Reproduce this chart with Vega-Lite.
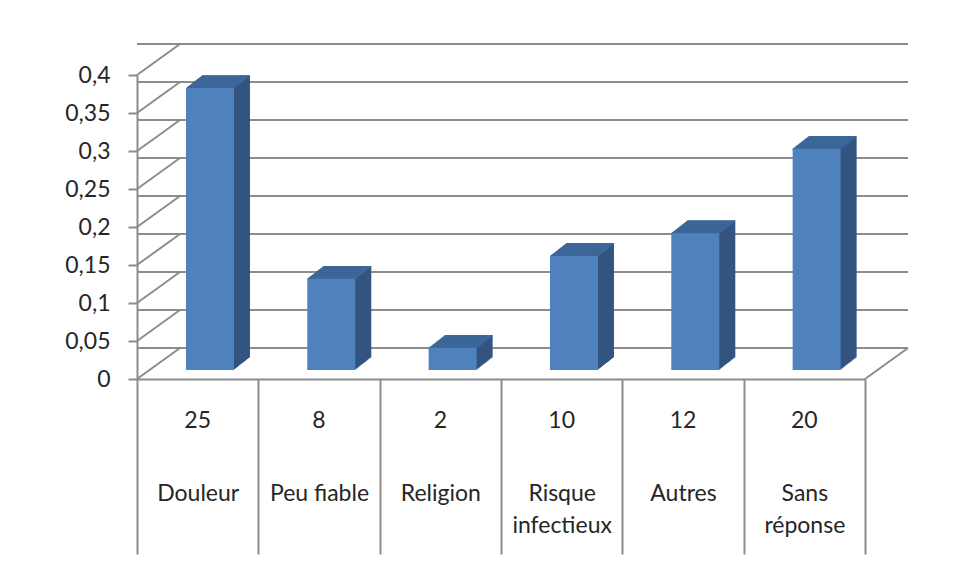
{
  "$schema": "https://vega.github.io/schema/vega-lite/v6.json",
  "width": 728,
  "height": 304,
  "autosize": {"type": "none"},
  "padding": {"left": 137, "top": 75, "right": 91, "bottom": 191},
  "background": "white",
  "config": {
    "view": {"stroke": null},
    "font": "Lato",
    "axisY": {
      "tickCount": 8,
      "labelExpr": "replace(format(datum.value, '.2~f'), '.', ',')",
      "tickSize": 9, "tickColor": "#8c8c8c", "tickWidth": 2,
      "domainColor": "#8c8c8c", "domainWidth": 2,
      "labelPadding": 18, "labelFont": "Lato", "labelFontSize": 23, "labelColor": "#262626",
      "labelOverlap": false, "labelFlush": false, "grid": false
    }
  },
  "datasets": {
    "main": [
      {"cat": "Douleur", "pct": 0.371, "n": 25},
      {"cat": "Peu fiable", "pct": 0.12, "n": 8},
      {"cat": "Religion", "pct": 0.029, "n": 2},
      {"cat": "Risque infectieux", "pct": 0.15, "n": 10},
      {"cat": "Autres", "pct": 0.18, "n": 12},
      {"cat": "Sans réponse", "pct": 0.291, "n": 20}
    ],
    "grid": [
      {"v": 0}, {"v": 0.05}, {"v": 0.1}, {"v": 0.15}, {"v": 0.2},
      {"v": 0.25}, {"v": 0.3}, {"v": 0.35}, {"v": 0.4}
    ]
  },
  "layer": [
    {
      "data": {"name": "grid"},
      "mark": {"type": "rule", "color": "#8c8c8c", "strokeWidth": 2, "xOffset": 43, "x2Offset": 43, "yOffset": -31},
      "encoding": {"y": {"field": "v", "type": "quantitative", "title": null}}
    },
    {
      "data": {"name": "grid"},
      "mark": {"type": "rule", "color": "#8c8c8c", "strokeWidth": 2, "x2Offset": 43, "y2Offset": -31},
      "encoding": {
        "x": {"value": 0},
        "x2": {"value": 0},
        "y": {"field": "v", "type": "quantitative", "title": null},
        "y2": {"field": "v"}
      }
    },
    {
      "data": {"values": [{}]},
      "mark": {"type": "rule", "color": "#8c8c8c", "strokeWidth": 2, "x2Offset": 43, "y2Offset": -31},
      "encoding": {
        "x": {"value": {"expr": "width"}},
        "x2": {"value": {"expr": "width"}},
        "y": {"datum": 0, "type": "quantitative", "title": null},
        "y2": {"datum": 0}
      }
    },
    {
      "data": {"name": "main"},
      "encoding": {
        "x": {
          "field": "cat", "type": "nominal", "sort": null, "title": null,
          "scale": {"paddingInner": 0, "paddingOuter": 0},
          "axis": {
            "tickBand": "extent", "tickSize": 175, "tickColor": "#8c8c8c", "tickWidth": 2,
            "domainColor": "#8c8c8c", "domainWidth": 2,
            "labelFont": "Lato", "labelFontSize": 23, "labelColor": "#262626",
            "labelPadding": -72, "labelLineHeight": 32, "labelAngle": 0, "labelBaseline": "top",
            "labelExpr": "datum.label == 'Risque infectieux' ? ['Risque', 'infectieux'] : datum.label == 'Sans réponse' ? ['Sans', 'réponse'] : datum.label"
          }
        },
        "y": {
          "field": "pct", "type": "quantitative", "title": null,
          "scale": {"domain": [0, 0.4], "nice": false, "zero": true}
        }
      },
      "layer": [
        {"mark": {"type": "bar", "color": "#32547e", "width": 48, "xOffset": 13.3, "yOffset": -9.78, "y2Offset": -9.78}, "encoding": {"y2": {"datum": 0}}},
        {"mark": {"type": "bar", "color": "#32547e", "width": 48, "xOffset": 14.3, "yOffset": -10.56, "y2Offset": -10.56}, "encoding": {"y2": {"datum": 0}}},
        {"mark": {"type": "bar", "color": "#32547e", "width": 48, "xOffset": 15.3, "yOffset": -11.34, "y2Offset": -11.34}, "encoding": {"y2": {"datum": 0}}},
        {"mark": {"type": "bar", "color": "#32547e", "width": 48, "xOffset": 16.3, "yOffset": -12.12, "y2Offset": -12.12}, "encoding": {"y2": {"datum": 0}}},
        {"mark": {"type": "bar", "color": "#32547e", "width": 48, "xOffset": 17.3, "yOffset": -12.9, "y2Offset": -12.9}, "encoding": {"y2": {"datum": 0}}},
        {"mark": {"type": "bar", "color": "#32547e", "width": 48, "xOffset": 18.3, "yOffset": -13.68, "y2Offset": -13.68}, "encoding": {"y2": {"datum": 0}}},
        {"mark": {"type": "bar", "color": "#32547e", "width": 48, "xOffset": 19.3, "yOffset": -14.46, "y2Offset": -14.46}, "encoding": {"y2": {"datum": 0}}},
        {"mark": {"type": "bar", "color": "#32547e", "width": 48, "xOffset": 20.3, "yOffset": -15.24, "y2Offset": -15.24}, "encoding": {"y2": {"datum": 0}}},
        {"mark": {"type": "bar", "color": "#32547e", "width": 48, "xOffset": 21.3, "yOffset": -16.02, "y2Offset": -16.02}, "encoding": {"y2": {"datum": 0}}},
        {"mark": {"type": "bar", "color": "#32547e", "width": 48, "xOffset": 22.3, "yOffset": -16.8, "y2Offset": -16.8}, "encoding": {"y2": {"datum": 0}}},
        {"mark": {"type": "bar", "color": "#32547e", "width": 48, "xOffset": 23.3, "yOffset": -17.58, "y2Offset": -17.58}, "encoding": {"y2": {"datum": 0}}},
        {"mark": {"type": "bar", "color": "#32547e", "width": 48, "xOffset": 24.3, "yOffset": -18.36, "y2Offset": -18.36}, "encoding": {"y2": {"datum": 0}}},
        {"mark": {"type": "bar", "color": "#32547e", "width": 48, "xOffset": 25.3, "yOffset": -19.14, "y2Offset": -19.14}, "encoding": {"y2": {"datum": 0}}},
        {"mark": {"type": "bar", "color": "#32547e", "width": 48, "xOffset": 26.3, "yOffset": -19.92, "y2Offset": -19.92}, "encoding": {"y2": {"datum": 0}}},
        {"mark": {"type": "bar", "color": "#32547e", "width": 48, "xOffset": 27.3, "yOffset": -20.7, "y2Offset": -20.7}, "encoding": {"y2": {"datum": 0}}},
        {"mark": {"type": "bar", "color": "#32547e", "width": 48, "xOffset": 28.3, "yOffset": -21.48, "y2Offset": -21.48}, "encoding": {"y2": {"datum": 0}}},
        {"mark": {"type": "bar", "color": "#3d6798", "width": 48, "xOffset": 12.3, "yOffset": -9.4, "y2Offset": -8.1}, "encoding": {"y2": {"field": "pct"}}},
        {"mark": {"type": "bar", "color": "#3d6798", "width": 48, "xOffset": 13.3, "yOffset": -10.18, "y2Offset": -8.88}, "encoding": {"y2": {"field": "pct"}}},
        {"mark": {"type": "bar", "color": "#3d6798", "width": 48, "xOffset": 14.3, "yOffset": -10.96, "y2Offset": -9.66}, "encoding": {"y2": {"field": "pct"}}},
        {"mark": {"type": "bar", "color": "#3d6798", "width": 48, "xOffset": 15.3, "yOffset": -11.74, "y2Offset": -10.44}, "encoding": {"y2": {"field": "pct"}}},
        {"mark": {"type": "bar", "color": "#3d6798", "width": 48, "xOffset": 16.3, "yOffset": -12.52, "y2Offset": -11.22}, "encoding": {"y2": {"field": "pct"}}},
        {"mark": {"type": "bar", "color": "#3d6798", "width": 48, "xOffset": 17.3, "yOffset": -13.3, "y2Offset": -12.0}, "encoding": {"y2": {"field": "pct"}}},
        {"mark": {"type": "bar", "color": "#3d6798", "width": 48, "xOffset": 18.3, "yOffset": -14.08, "y2Offset": -12.78}, "encoding": {"y2": {"field": "pct"}}},
        {"mark": {"type": "bar", "color": "#3d6798", "width": 48, "xOffset": 19.3, "yOffset": -14.86, "y2Offset": -13.56}, "encoding": {"y2": {"field": "pct"}}},
        {"mark": {"type": "bar", "color": "#3d6798", "width": 48, "xOffset": 20.3, "yOffset": -15.64, "y2Offset": -14.34}, "encoding": {"y2": {"field": "pct"}}},
        {"mark": {"type": "bar", "color": "#3d6798", "width": 48, "xOffset": 21.3, "yOffset": -16.42, "y2Offset": -15.12}, "encoding": {"y2": {"field": "pct"}}},
        {"mark": {"type": "bar", "color": "#3d6798", "width": 48, "xOffset": 22.3, "yOffset": -17.2, "y2Offset": -15.9}, "encoding": {"y2": {"field": "pct"}}},
        {"mark": {"type": "bar", "color": "#3d6798", "width": 48, "xOffset": 23.3, "yOffset": -17.98, "y2Offset": -16.68}, "encoding": {"y2": {"field": "pct"}}},
        {"mark": {"type": "bar", "color": "#3d6798", "width": 48, "xOffset": 24.3, "yOffset": -18.76, "y2Offset": -17.46}, "encoding": {"y2": {"field": "pct"}}},
        {"mark": {"type": "bar", "color": "#3d6798", "width": 48, "xOffset": 25.3, "yOffset": -19.54, "y2Offset": -18.24}, "encoding": {"y2": {"field": "pct"}}},
        {"mark": {"type": "bar", "color": "#3d6798", "width": 48, "xOffset": 26.3, "yOffset": -20.32, "y2Offset": -19.02}, "encoding": {"y2": {"field": "pct"}}},
        {"mark": {"type": "bar", "color": "#3d6798", "width": 48, "xOffset": 27.3, "yOffset": -21.1, "y2Offset": -19.8}, "encoding": {"y2": {"field": "pct"}}},
        {"mark": {"type": "bar", "color": "#3d6798", "width": 48, "xOffset": 28.3, "yOffset": -21.88, "y2Offset": -20.58}, "encoding": {"y2": {"field": "pct"}}},
        {"mark": {"type": "bar", "color": "#4f81bd", "width": 48, "xOffset": 12.3, "yOffset": -9, "y2Offset": -9}, "encoding": {"y2": {"datum": 0}}},
        {
          "mark": {"type": "text", "font": "Lato", "fontSize": 23, "color": "#262626", "baseline": "middle", "yOffset": 42},
          "encoding": {"y": {"datum": 0, "type": "quantitative"}, "text": {"field": "n", "type": "quantitative"}}
        }
      ]
    }
  ]
}
